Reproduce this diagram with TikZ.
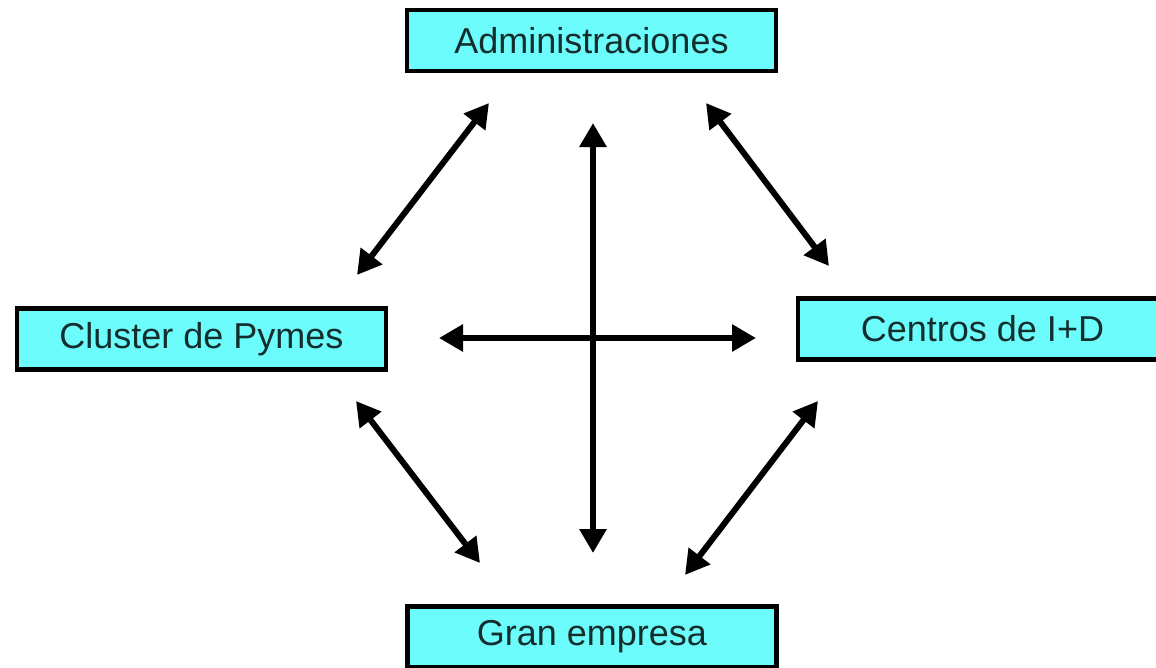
\documentclass[tikz,border=0pt]{standalone}
\usepackage{fontspec}
\setmainfont{Liberation Sans}
\usetikzlibrary{arrows.meta}
\definecolor{boxcyan}{RGB}{108,252,252}
\definecolor{boxtext}{RGB}{20,45,45}
\tikzset{
  entity/.style={draw=black, line width=4.5pt, fill=boxcyan, minimum width=369pt, minimum height=61pt,
    inner sep=0pt, font=\fontsize{36}{40}\selectfont, text=boxtext},
  link/.style={line width=6pt, {Triangle[length=24pt,width=26pt]}-{Triangle[length=24pt,width=26pt]}}
}
\begin{document}
\begin{tikzpicture}[x=1pt,y=-1pt]
\clip (0,0) rectangle (1156,667);
\fill[white] (0,0) rectangle (1156,667);
\node[entity] (adm) at (591.5,40.5) {Administraciones};
\node[entity] (clu) at (201.5,339) {Cluster de Pymes};
\node[entity] (cen) at (982.5,329) {Centros de I+D};
\node[entity] (gra) at (592,637) {Gran empresa};
% arrow end points
\coordinate (acA) at (489,103);
\coordinate (acC) at (357,275);
\coordinate (adA) at (706,103);
\coordinate (adD) at (829,266);
\coordinate (vT) at (593,123);
\coordinate (vB) at (593,553);
\coordinate (hL) at (439,338);
\coordinate (hR) at (756,338);
\coordinate (cgC) at (356,401);
\coordinate (cgG) at (480,563);
\coordinate (dgD) at (818,401);
\coordinate (dgG) at (685,575);
\draw[link] (acC) -- (acA);
\draw[link] (adA) -- (adD);
\draw[link] (vT) -- (vB);
\draw[link] (hL) -- (hR);
\draw[link] (cgC) -- (cgG);
\draw[link] (dgD) -- (dgG);
\end{tikzpicture}
\end{document}
